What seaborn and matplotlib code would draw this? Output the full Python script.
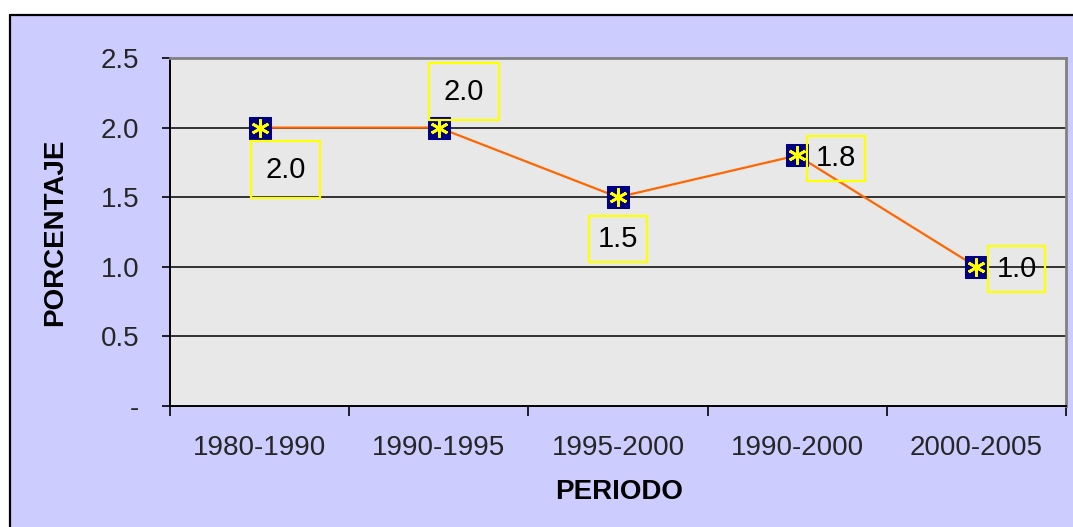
import matplotlib
matplotlib.use("Agg")
import matplotlib.pyplot as plt
import seaborn as sns
import pandas as pd
from matplotlib.patches import Rectangle
from matplotlib.lines import Line2D

periodos = ["1980-1990", "1990-1995", "1995-2000", "1990-2000", "2000-2005"]
porcentaje = [2.0, 2.0, 1.5, 1.8, 1.0]
yticks = [0.0, 0.5, 1.0, 1.5, 2.0, 2.5]
ytick_labels = ["-", "0.5", "1.0", "1.5", "2.0", "2.5"]
label_offsets = [(26, -42), (25, 36), (0, -42), (39, -3), (40, -2)]
label_pads = [0.5, 0.5, 0.3, 0.3, 0.3]

sns.set_theme(style="white")
plt.rcParams["font.family"] = ["Liberation Sans", "DejaVu Sans"]

W, H = 1073, 527
fig = plt.figure(figsize=(W / 100, H / 100), dpi=100, facecolor="white")

# lavender chart area with black top/left border
fig.patches.append(Rectangle((10 / W, 0), 1 - 10 / W, 1 - 15 / H, transform=fig.transFigure,
                             facecolor="#CCCCFF", edgecolor="none", zorder=-2))
fig.lines.append(Line2D([10 / W, 1], [1 - 15 / H, 1 - 15 / H], transform=fig.transFigure,
                        color="black", lw=1.6, zorder=-1))
fig.lines.append(Line2D([10 / W, 10 / W], [0, 1 - 15 / H], transform=fig.transFigure,
                        color="black", lw=1.6, zorder=-1))

ax = fig.add_axes([170 / W, 1 - 406 / H, (1066 - 170) / W, (406 - 58) / H])
ax.set_zorder(5)
ax.set_facecolor("#E8E8E8")

df = pd.DataFrame({"periodo": periodos, "x": range(len(periodos)), "valor": porcentaje})

sns.lineplot(data=df, x="x", y="valor", ax=ax, color="#FF6600", lw=1.6,
             marker="s", markersize=16, markerfacecolor="#000080",
             markeredgecolor="#000080", zorder=5)
ax.plot(df["x"], df["valor"], ls="none", marker=(6, 2, 0), markersize=13,
        markeredgecolor="#FFFF00", markeredgewidth=2, zorder=6)

for xi, v, off, pad in zip(df["x"], df["valor"], label_offsets, label_pads):
    ax.annotate(f"{v:.1f}", (xi, v), xytext=off, textcoords="offset pixels",
                ha="center", va="center", fontsize=21, color="black", zorder=7,
                bbox=dict(boxstyle=f"square,pad={pad}", facecolor="none",
                          edgecolor="#FFFF00", lw=1.6))

ax.set_xlim(-0.5, len(periodos) - 0.5)
ax.set_ylim(0, 2.5)
ax.set_yticks(yticks)
ax.set_yticklabels(ytick_labels)
ax.set_xticks(list(range(len(periodos))))
ax.set_xticklabels(periodos)
ax.set_xticks([i - 0.5 for i in range(len(periodos) + 1)], minor=True)

ax.tick_params(axis="y", which="major", length=6, width=1.2, color="black",
               direction="out", pad=16, labelsize=20, left=True)
ax.tick_params(axis="x", which="major", length=0, pad=21, labelsize=20, bottom=True)
ax.tick_params(axis="x", which="minor", length=7, width=1.2, color="black",
               direction="out", bottom=True)

for y in yticks[1:-1]:
    ax.axhline(y, color="black", lw=1.1, zorder=1)

ax.spines["left"].set_color("black")
ax.spines["bottom"].set_color("black")
ax.spines["left"].set_linewidth(1.4)
ax.spines["bottom"].set_linewidth(1.4)
ax.spines["top"].set_color("#808080")
ax.spines["right"].set_color("#808080")
ax.spines["top"].set_linewidth(2)
ax.spines["right"].set_linewidth(2)
for s in ax.spines.values():
    s.set_visible(True)

ax.set_xlabel("")
ax.set_ylabel("")
fig.text(55 / W, 1 - 232 / H, "PORCENTAJE", rotation=90, ha="center", va="center",
         fontsize=20, fontweight="bold", color="black")
fig.text(619 / W, 1 - 492 / H, "PERIODO", ha="center", va="center",
         fontsize=20, fontweight="bold", color="black")

fig.savefig("out.png", dpi=100, facecolor="white")
